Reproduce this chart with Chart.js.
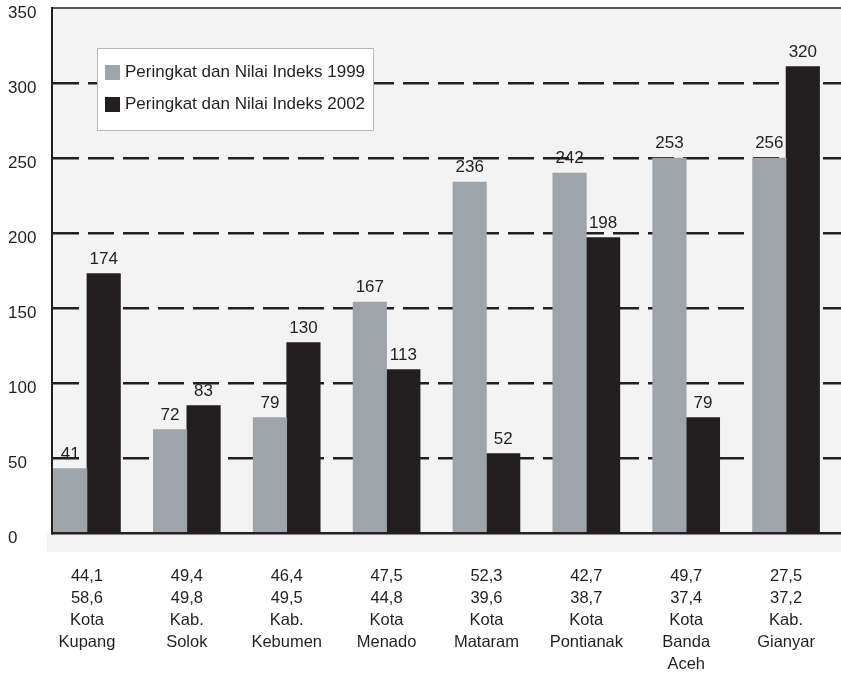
<!DOCTYPE html>
<html lang="id">
  <head>
    <meta charset="utf-8" />
    <title>Peringkat dan Nilai Indeks</title>
    <style>
      * {
        margin: 0;
        padding: 0;
      }
      body {
        background: white;
      }
    </style>
  </head>
  <body>
    <canvas id="myChart" width="841" height="675"></canvas>

    <script src="https://cdn.jsdelivr.net/npm/chart.js@4/dist/chart.umd.min.js"></script>

    <script>
      // data block
      const cities = [
        ["Kota", "Kupang"],
        ["Kab.", "Solok"],
        ["Kab.", "Kebumen"],
        ["Kota", "Menado"],
        ["Kota", "Mataram"],
        ["Kota", "Pontianak"],
        ["Kota", "Banda", "Aceh"],
        ["Kab.", "Gianyar"],
      ];
      const index1999 = ["44,1", "49,4", "46,4", "47,5", "52,3", "42,7", "49,7", "27,5"];
      const index2002 = ["58,6", "49,8", "49,5", "44,8", "39,6", "38,7", "37,4", "37,2"];

      // bar heights as drawn, and the rank printed above each bar
      const bars1999 = [43, 69, 77, 154, 234, 240, 250, 250];
      const bars2002 = [173, 85, 127, 109, 53, 197, 77, 311];
      const rank1999 = ["41", "72", "79", "167", "236", "242", "253", "256"];
      const rank2002 = ["174", "83", "130", "113", "52", "198", "79", "320"];

      const yTicks = [0, 50, 100, 150, 200, 250, 300, 350];

      const ink = "#231f20";
      const font = "'Liberation Sans', Arial, sans-serif";

      const data = {
        datasets: [
          {
            label: "Peringkat dan Nilai Indeks 1999",
            data: bars1999.map((v, i) => ({ x: i, y: v })),
            backgroundColor: "#9da4aa",
            ranks: rank1999,
          },
          {
            label: "Peringkat dan Nilai Indeks 2002",
            data: bars2002.map((v, i) => ({ x: i, y: v })),
            backgroundColor: ink,
            ranks: rank2002,
          },
        ],
      };

      // plot background, strip under the axis, top frame line
      const plotBack = {
        id: "plotBack",
        beforeDraw(chart) {
          const { ctx, chartArea: { top, bottom, left, right } } = chart;
          ctx.save();
          ctx.fillStyle = "#f2f3f2";
          ctx.fillRect(left, top, right - left, bottom - top);
          ctx.fillRect(left - 5, bottom, right - left + 5, 19);
          ctx.restore();
        },
        afterDraw(chart) {
          const { ctx, chartArea: { top, left, right } } = chart;
          ctx.save();
          ctx.strokeStyle = ink;
          ctx.lineWidth = 1.5;
          ctx.beginPath();
          ctx.moveTo(left, top);
          ctx.lineTo(right, top);
          ctx.stroke();
          ctx.restore();
        },
      };

      // rank numbers above the bars
      const rankLabels = {
        id: "rankLabels",
        afterDatasetsDraw(chart) {
          const { ctx } = chart;
          ctx.save();
          ctx.font = "17px " + font;
          ctx.fillStyle = ink;
          ctx.textAlign = "center";
          ctx.textBaseline = "bottom";
          chart.data.datasets.forEach((ds, d) => {
            chart.getDatasetMeta(d).data.forEach((bar, i) => {
              ctx.fillText(ds.ranks[i], bar.x, bar.y - 6);
            });
          });
          ctx.restore();
        },
      };

      // boxed legend inside the plot
      const boxLegend = {
        id: "boxLegend",
        afterDraw(chart) {
          const { ctx } = chart;
          const x = 97, y = 48, w = 276, h = 82;
          ctx.save();
          ctx.fillStyle = "white";
          ctx.fillRect(x, y, w, h);
          ctx.strokeStyle = "#b8b8b8";
          ctx.lineWidth = 1;
          ctx.strokeRect(x + 0.5, y + 0.5, w, h);
          ctx.font = "17px " + font;
          ctx.textBaseline = "middle";
          chart.data.datasets.forEach((ds, d) => {
            const cy = y + 24 + d * 32;
            ctx.fillStyle = ds.backgroundColor;
            ctx.fillRect(x + 8, cy - 7, 15, 15);
            ctx.fillStyle = ink;
            ctx.fillText(ds.label, x + 28, cy);
          });
          ctx.restore();
        },
      };

      const config = {
        type: "bar",
        data: data,
        options: {
          responsive: false,
          animation: false,
          layout: { padding: { left: 8, top: 8, right: 0, bottom: 0 } },
          datasets: {
            bar: { barThickness: 33.5 },
          },
          plugins: {
            legend: { display: false },
            tooltip: { enabled: false },
          },
          scales: {
            x: {
              type: "linear",
              offset: false,
              min: -0.35,
              max: 7.55,
              afterBuildTicks(scale) {
                scale.ticks = cities.map((c, i) => ({ value: i }));
              },
              afterFit(scale) {
                scale.height = 142;
                scale.paddingLeft = 0;
                scale.paddingRight = 0;
              },
              grid: { display: false, drawTicks: false, offset: false },
              border: { display: true, color: ink, width: 2.5 },
              ticks: {
                autoSkip: false,
                maxRotation: 0,
                padding: 32,
                color: ink,
                font: { family: font, size: 16.5, lineHeight: 1.34 },
                callback: (v, i) => [index1999[i], index2002[i], ...cities[i]],
              },
            },
            y: {
              min: 0,
              max: 350,
              afterBuildTicks(scale) {
                scale.ticks = yTicks.map((v) => ({ value: v }));
              },
              afterFit(scale) {
                scale.width = 44;
                scale.paddingTop = 0;
                scale.paddingBottom = 0;
              },
              grid: {
                drawTicks: false,
                lineWidth: 2.5,
                color: (c) =>
                  c.tick && (c.tick.value === 0 || c.tick.value === 350)
                    ? "rgba(0,0,0,0)"
                    : ink,
              },
              border: { display: true, color: ink, width: 2, dash: [26, 9] },
              ticks: {
                crossAlign: "far",
                labelOffset: 5,
                color: ink,
                font: { family: font, size: 17 },
              },
            },
          },
        },
        plugins: [plotBack, rankLabels, boxLegend],
      };

      // init render block
      const myChart = new Chart(document.getElementById("myChart"), config);
    </script>
  </body>
</html>
